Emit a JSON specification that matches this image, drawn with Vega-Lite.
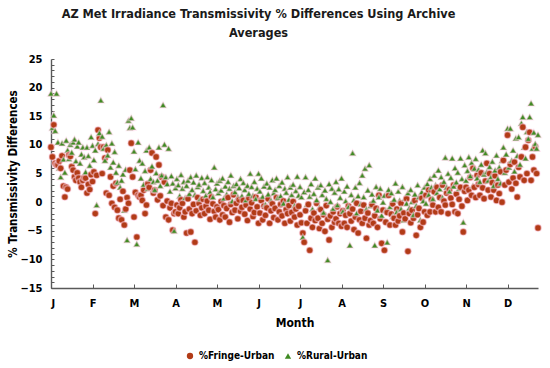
{
"$schema":"https://vega.github.io/schema/vega-lite/v6.json",
"width":487,"height":229,
"autosize":{"type":"none"},
"padding":{"left":51,"top":59,"right":12,"bottom":80},
"background":"white",
"config":{"view":{"stroke":null},"font":"DejaVu Sans Condensed, sans-serif"},
"title":{"text":["AZ Met Irradiance Transmissivity % Differences Using Archive","Averages"],"fontSize":12.6,"fontWeight":"bold","color":"#1a1a1a","anchor":"middle","dx":-36,"offset":13,"lineHeight":19,"font":"DejaVu Sans Condensed, sans-serif"},
"data":{"values":[
{"d":0,"F":9.6,"R":19},{"d":1,"F":7.9,"R":13},{"d":2,"F":13.5,"R":15.2},{"d":3,"F":6.8,"R":12.5},{"d":4,"F":6.5,"R":19},{"d":5,"F":6.5,"R":10.5},{"d":6,"F":7.2,"R":6},{"d":7,"F":5.9,"R":4.4},{"d":8,"F":8.1,"R":10.3},{"d":9,"F":2.8,"R":7.5},{"d":10,"F":0.9,"R":5.2},{"d":11,"F":2.6,"R":10.8},{"d":12,"F":2.3,"R":9.1},{"d":13,"F":8.2,"R":7.6},{"d":14,"F":8,"R":10.1},{"d":15,"F":6.2,"R":8.7},{"d":16,"F":5.6,"R":10.5},{"d":17,"F":4.4,"R":11},{"d":18,"F":3.8,"R":7.2},{"d":19,"F":5.1,"R":9.8},{"d":20,"F":4.2,"R":10.5},{"d":21,"F":3.5,"R":6.8},{"d":22,"F":2.6,"R":8.4},{"d":23,"F":3.8,"R":9.6},{"d":24,"F":4.3,"R":7.9},{"d":25,"F":4.2,"R":5.3},{"d":26,"F":1.6,"R":9.6},{"d":27,"F":3.1,"R":8.1},{"d":28,"F":2.2,"R":6.4},{"d":29,"F":4.8,"R":11.4},{"d":30,"F":3.6,"R":9.9},
{"d":31,"F":5.3,"R":7.4},{"d":32,"F":-2,"R":9.1},{"d":33,"F":4.7,"R":-0.5},{"d":34,"F":12.6,"R":10.2},{"d":35,"F":11.2,"R":12.1},{"d":36,"F":9.6,"R":17.8},{"d":37,"F":5,"R":11.5},{"d":38,"F":9.6,"R":9.4},{"d":39,"F":7.7,"R":7.3},{"d":40,"F":1.6,"R":10},{"d":41,"F":9.1,"R":8.2},{"d":42,"F":1.2,"R":12.3},{"d":43,"F":4.4,"R":6.1},{"d":44,"F":-0.2,"R":10.3},{"d":45,"F":2.8,"R":7},{"d":46,"F":-0.9,"R":8.8},{"d":47,"F":3.3,"R":5.2},{"d":48,"F":-1.4,"R":3.5},{"d":49,"F":-2.8,"R":6.4},{"d":50,"F":0.5,"R":2.6},{"d":51,"F":-3.1,"R":3.8},{"d":52,"F":1.9,"R":4.9},{"d":53,"F":-4,"R":-1.4},{"d":54,"F":-1.2,"R":5.7},{"d":55,"F":0.8,"R":-6.6},{"d":56,"F":-0.2,"R":14.3},{"d":57,"F":5.6,"R":13},{"d":58,"F":10.3,"R":14.7},{"d":59,"F":4.4,"R":13.1},{"d":60,"F":-2.6,"R":8.9},
{"d":61,"F":1.7,"R":5.8},{"d":62,"F":-6.1,"R":-7.3},{"d":63,"F":1.2,"R":10.5},{"d":64,"F":0.9,"R":7.3},{"d":65,"F":1.2,"R":4.2},{"d":66,"F":0.3,"R":6.8},{"d":67,"F":2.1,"R":3.1},{"d":68,"F":-2,"R":5.5},{"d":69,"F":-0.5,"R":9.1},{"d":70,"F":3.2,"R":2.4},{"d":71,"F":2.6,"R":9.6},{"d":72,"F":5.6,"R":4.1},{"d":73,"F":8.6,"R":6.3},{"d":74,"F":1.6,"R":3.6},{"d":75,"F":2.1,"R":2.2},{"d":76,"F":7.9,"R":5.1},{"d":77,"F":0.4,"R":3.8},{"d":78,"F":6.5,"R":9.6},{"d":79,"F":1.1,"R":2.9},{"d":80,"F":4.4,"R":4.7},{"d":81,"F":-0.6,"R":17},{"d":82,"F":3.5,"R":10.1},{"d":83,"F":-2.6,"R":4.4},{"d":84,"F":0.2,"R":3.2},{"d":85,"F":-3.1,"R":9.4},{"d":86,"F":-1,"R":1.9},{"d":87,"F":-0.2,"R":4.6},{"d":88,"F":-4.9,"R":3.3},{"d":89,"F":-2,"R":-5},{"d":90,"F":-1.7,"R":2.5},
{"d":91,"F":-0.5,"R":4.1},{"d":92,"F":-2,"R":3},{"d":93,"F":-1,"R":1.1},{"d":94,"F":0.4,"R":4.8},{"d":95,"F":-0.2,"R":2.4},{"d":96,"F":-2.6,"R":3.6},{"d":97,"F":-1.7,"R":0.8},{"d":98,"F":-5.4,"R":2.9},{"d":99,"F":0.6,"R":3.8},{"d":100,"F":-1.2,"R":1.5},{"d":101,"F":-5.2,"R":4.4},{"d":102,"F":-2,"R":2.2},{"d":103,"F":-0.4,"R":3.5},{"d":104,"F":-7,"R":1.3},{"d":105,"F":-1.5,"R":4.7},{"d":106,"F":0.8,"R":2.7},{"d":107,"F":-0.2,"R":3.1},{"d":108,"F":-2.3,"R":0.6},{"d":109,"F":-1,"R":4.3},{"d":110,"F":0.5,"R":2},{"d":111,"F":-2,"R":3.4},{"d":112,"F":-0.7,"R":1.2},{"d":113,"F":0.2,"R":4.4},{"d":114,"F":-1.4,"R":2.6},{"d":115,"F":-3,"R":1.8},{"d":116,"F":0.9,"R":3.9},{"d":117,"F":-0.3,"R":0.9},{"d":118,"F":-1.6,"R":6.1},{"d":119,"F":-2.6,"R":2.3},{"d":120,"F":-0.8,"R":3.3},
{"d":121,"F":-1.3,"R":1.6},{"d":122,"F":-3.1,"R":3.8},{"d":123,"F":0.1,"R":2.1},{"d":124,"F":-2.2,"R":4.2},{"d":125,"F":-0.6,"R":0.7},{"d":126,"F":-2.6,"R":2.8},{"d":127,"F":-1.1,"R":1.4},{"d":128,"F":0.8,"R":3.6},{"d":129,"F":-3.5,"R":2.4},{"d":130,"F":-0.4,"R":4.7},{"d":131,"F":-1.8,"R":0.2},{"d":132,"F":1.3,"R":2.9},{"d":133,"F":-1.4,"R":1.8},{"d":134,"F":-0.2,"R":3.2},{"d":135,"F":-2.9,"R":0.9},{"d":136,"F":0.4,"R":2.5},{"d":137,"F":-1.6,"R":4.1},{"d":138,"F":-0.9,"R":1.1},{"d":139,"F":0.3,"R":3.4},{"d":140,"F":-2.1,"R":2.2},{"d":141,"F":-0.5,"R":0.4},{"d":142,"F":-3.2,"R":2.9},{"d":143,"F":0.7,"R":1.5},{"d":144,"F":-1.2,"R":5},{"d":145,"F":-0.1,"R":2.7},{"d":146,"F":-2.5,"R":1.2},{"d":147,"F":-1.8,"R":3.6},{"d":148,"F":0.9,"R":0.6},{"d":149,"F":-0.8,"R":2.4},{"d":150,"F":-3.7,"R":5},
{"d":151,"F":-1.9,"R":1.9},{"d":152,"F":0.3,"R":4.2},{"d":153,"F":-3.1,"R":1},{"d":154,"F":-0.7,"R":2.8},{"d":155,"F":-2.3,"R":-0.4},{"d":156,"F":-1,"R":3.3},{"d":157,"F":0.6,"R":1.4},{"d":158,"F":-3.7,"R":2.6},{"d":159,"F":-1.5,"R":0.3},{"d":160,"F":-0.3,"R":3.9},{"d":161,"F":-2.7,"R":1.6},{"d":162,"F":-1.1,"R":2.2},{"d":163,"F":0.8,"R":4.2},{"d":164,"F":-3.1,"R":0.8},{"d":165,"F":-1.7,"R":2.9},{"d":166,"F":-0.4,"R":1.1},{"d":167,"F":-2.4,"R":3.5},{"d":168,"F":0.2,"R":-0.2},{"d":169,"F":-3.7,"R":2.4},{"d":170,"F":-1.3,"R":1.7},{"d":171,"F":-2,"R":4.4},{"d":172,"F":-0.6,"R":0.5},{"d":173,"F":-3.3,"R":2.6},{"d":174,"F":-1.8,"R":1.3},{"d":175,"F":0.1,"R":3.1},{"d":176,"F":-2.6,"R":-0.6},{"d":177,"F":-1.2,"R":2},{"d":178,"F":-4,"R":4.5},{"d":179,"F":-0.7,"R":1.2},{"d":180,"F":-2.2,"R":2.7},
{"d":181,"F":-3.6,"R":0.9},{"d":182,"F":-5.4,"R":-6.1},{"d":183,"F":-7,"R":1.8},{"d":184,"F":-1.5,"R":4.4},{"d":185,"F":-3.7,"R":-0.4},{"d":186,"F":-0.4,"R":2.2},{"d":187,"F":-8.4,"R":1},{"d":188,"F":-2.8,"R":3.2},{"d":189,"F":-4.4,"R":-1.2},{"d":190,"F":-1.9,"R":1.5},{"d":191,"F":-3.2,"R":4.2},{"d":192,"F":-0.2,"R":0.4},{"d":193,"F":-2.8,"R":2.6},{"d":194,"F":-4.6,"R":-0.9},{"d":195,"F":-1.3,"R":3},{"d":196,"F":-3.7,"R":1.3},{"d":197,"F":-2.2,"R":-1.8},{"d":198,"F":-5.1,"R":2.1},{"d":199,"F":-0.6,"R":0.6},{"d":200,"F":-3,"R":-10.1},{"d":201,"F":-6.6,"R":3.2},{"d":202,"F":-2.4,"R":0.1},{"d":203,"F":-4.4,"R":2.4},{"d":204,"F":-1.7,"R":-1.1},{"d":205,"F":-3.5,"R":1.7},{"d":206,"F":-2.9,"R":3.6},{"d":207,"F":-0.8,"R":-0.5},{"d":208,"F":-3.7,"R":2.3},{"d":209,"F":-2,"R":0.8},{"d":210,"F":-4.2,"R":4.2},
{"d":211,"F":-1.5,"R":-1.6},{"d":212,"F":-3.7,"R":1.9},{"d":213,"F":-2.3,"R":0.2},{"d":214,"F":-4.4,"R":2.8},{"d":215,"F":-0.7,"R":-0.8},{"d":216,"F":-2,"R":-7.5},{"d":217,"F":-3.3,"R":1.3},{"d":218,"F":-1.2,"R":8.6},{"d":219,"F":-4.8,"R":0.4},{"d":220,"F":-2.6,"R":2.6},{"d":221,"F":-0.2,"R":-1.9},{"d":222,"F":-5.4,"R":1.1},{"d":223,"F":-3.1,"R":3.4},{"d":224,"F":-1.6,"R":-0.3},{"d":225,"F":-3.7,"R":4.7},{"d":226,"F":-0.5,"R":0.9},{"d":227,"F":-2.8,"R":5.9},{"d":228,"F":-6.3,"R":-1.2},{"d":229,"F":-1.9,"R":2.1},{"d":230,"F":-4,"R":6.5},{"d":231,"F":-3.2,"R":-0.6},{"d":232,"F":-0.4,"R":1.4},{"d":233,"F":-3.7,"R":0.3},{"d":234,"F":-2.4,"R":-7.5},{"d":235,"F":-1.1,"R":2.7},{"d":236,"F":-4.4,"R":-1.4},{"d":237,"F":1.2,"R":0.9},{"d":238,"F":-2.9,"R":2.4},{"d":239,"F":-7.2,"R":-2.3},{"d":240,"F":-1.4,"R":0},
{"d":241,"F":-8.4,"R":1.2},{"d":242,"F":-3.5,"R":-1.4},{"d":243,"F":-1.8,"R":-7},{"d":244,"F":1.2,"R":2.2},{"d":245,"F":-4,"R":-0.8},{"d":246,"F":-2.1,"R":1.6},{"d":247,"F":-0.3,"R":-2.5},{"d":248,"F":-2.8,"R":0.5},{"d":249,"F":-4,"R":3.3},{"d":250,"F":-1.2,"R":-1.7},{"d":251,"F":-3.3,"R":1.9},{"d":252,"F":-2.4,"R":0.3},{"d":253,"F":-0.2,"R":-1.2},{"d":254,"F":-5.2,"R":2.7},{"d":255,"F":-1.9,"R":-3.1},{"d":256,"F":-2.9,"R":0.7},{"d":257,"F":0.6,"R":-0.2},{"d":258,"F":-8.6,"R":1.6},{"d":259,"F":-2,"R":-1},{"d":260,"F":-3.6,"R":2.2},{"d":261,"F":-1.4,"R":0.1},{"d":262,"F":-2.8,"R":-2.2},{"d":263,"F":0.3,"R":1.4},{"d":264,"F":-5.8,"R":-0.6},{"d":265,"F":-2.2,"R":3},{"d":266,"F":-1.1,"R":0.9},{"d":267,"F":-4.4,"R":-3.1},{"d":268,"F":0.7,"R":1.8},{"d":269,"F":-3.5,"R":0.2},{"d":270,"F":-1.7,"R":2.6},
{"d":271,"F":1.2,"R":-0.2},{"d":272,"F":-2.3,"R":3.2},{"d":273,"F":2.1,"R":1.3},{"d":274,"F":-1.7,"R":4.1},{"d":275,"F":0.4,"R":2.6},{"d":276,"F":-0.5,"R":0.6},{"d":277,"F":1.8,"R":4.7},{"d":278,"F":-1.7,"R":3},{"d":279,"F":2.6,"R":1.6},{"d":280,"F":-0.9,"R":5.6},{"d":281,"F":0.8,"R":2.3},{"d":282,"F":-1.7,"R":4.4},{"d":283,"F":3,"R":0.8},{"d":284,"F":0.2,"R":3.6},{"d":285,"F":-0.5,"R":7.8},{"d":286,"F":1.6,"R":2.6},{"d":287,"F":-2,"R":5},{"d":288,"F":2.2,"R":1.9},{"d":289,"F":0.7,"R":4.3},{"d":290,"F":-0.4,"R":7.7},{"d":291,"F":3,"R":2.8},{"d":292,"F":-1.7,"R":6},{"d":293,"F":1.4,"R":3.5},{"d":294,"F":-2,"R":5.2},{"d":295,"F":0.5,"R":2.4},{"d":296,"F":2.6,"R":7.7},{"d":297,"F":-0.7,"R":4.1},{"d":298,"F":-5.2,"R":-3.5},{"d":299,"F":1.9,"R":6.5},{"d":300,"F":2.6,"R":3.8},
{"d":301,"F":0.3,"R":5.5},{"d":302,"F":2.1,"R":7.9},{"d":303,"F":4.3,"R":4.6},{"d":304,"F":1.2,"R":6.9},{"d":305,"F":5.9,"R":2.9},{"d":306,"F":2.6,"R":5.9},{"d":307,"F":0.8,"R":7.6},{"d":308,"F":4.7,"R":4.2},{"d":309,"F":3.1,"R":5.7},{"d":310,"F":1.2,"R":3.6},{"d":311,"F":5.1,"R":6.6},{"d":312,"F":2.5,"R":9.1},{"d":313,"F":0.6,"R":4.9},{"d":314,"F":3.7,"R":8.6},{"d":315,"F":6.8,"R":5.3},{"d":316,"F":2.1,"R":3.8},{"d":317,"F":5,"R":6.2},{"d":318,"F":0.9,"R":4.4},{"d":319,"F":3.4,"R":7.1},{"d":320,"F":2.1,"R":2.9},{"d":321,"F":4.6,"R":5.6},{"d":322,"F":0.3,"R":8.2},{"d":323,"F":3,"R":4.1},{"d":324,"F":1.5,"R":6.1},{"d":325,"F":5.3,"R":3.3},{"d":326,"F":0,"R":7.3},{"d":327,"F":7.3,"R":9.6},{"d":328,"F":3,"R":5.2},{"d":329,"F":5.6,"R":8.4},{"d":330,"F":11.7,"R":12.9},
{"d":331,"F":3.5,"R":6.1},{"d":332,"F":6.6,"R":12.9},{"d":333,"F":2.3,"R":7.3},{"d":334,"F":4.2,"R":9.1},{"d":335,"F":7,"R":5.4},{"d":336,"F":3.3,"R":11.2},{"d":337,"F":0.9,"R":8.1},{"d":338,"F":6.1,"R":11.4},{"d":339,"F":4.4,"R":6.6},{"d":340,"F":7.9,"R":13.8},{"d":341,"F":13.1,"R":14.9},{"d":342,"F":3.8,"R":9.6},{"d":343,"F":9.6,"R":7.7},{"d":344,"F":5,"R":12.3},{"d":345,"F":10.8,"R":11.1},{"d":346,"F":12.2,"R":14.9},{"d":347,"F":3.8,"R":17.3},{"d":348,"F":7.9,"R":9.4},{"d":349,"F":5.6,"R":12.2},{"d":350,"F":9.7,"R":10.2},{"d":351,"F":5,"R":9.4},{"d":352,"F":-4.5,"R":11.8}
]},
"transform":[{"fold":["F","R"],"as":["series","value"]}],
"mark":{"type":"point","filled":true,"size":44,"opacity":1,"stroke":"#FFD3EA","strokeWidth":1.5,"strokeOpacity":0.5},
"encoding":{
"x":{"field":"d","type":"quantitative","scale":{"domain":[0,352],"nice":false,"zero":false},
"axis":{"values":[0,30,60,90,120,150,180,210,240,270,300,330],"labelExpr":"substring('JFMAMJJASOND', datum.value/30, datum.value/30+1)","title":"Month","grid":false,"tickSize":-4,"tickColor":"#595959","domainColor":"#595959","domainWidth":1.4,"labelFontSize":11,"labelFontWeight":"bold","labelColor":"#000","labelPadding":13,"titleFontSize":12,"titleFontWeight":"bold","titleColor":"#000","titlePadding":9}},
"y":{"field":"value","type":"quantitative","scale":{"domain":[-15,25],"nice":false},
"axis":{"values":[-15,-14,-13,-12,-11,-10,-9,-8,-7,-6,-5,-4,-3,-2,-1,0,1,2,3,4,5,6,7,8,9,10,11,12,13,14,15,16,17,18,19,20,21,22,23,24,25],"labelExpr":"datum.value % 5 === 0 ? datum.label : ''","title":"% Transmissivity Differences","grid":false,"tickSize":-3,"tickColor":"#595959","domainColor":"#595959","domainWidth":1.4,"labelFontSize":11,"labelFontWeight":"bold","labelColor":"#000","labelPadding":12,"titleFontSize":11.5,"titleFontWeight":"bold","titleColor":"#000","titlePadding":1}},
"color":{"field":"series","type":"nominal","scale":{"domain":["F","R"],"range":["#B23B17","#3F8A22"]},
"legend":{"orient":"none","legendX":134,"legendY":292,"direction":"horizontal","title":null,"padding":0,"symbolSize":40,"labelFontSize":10,"labelFontWeight":"bold","labelColor":"#000","columnPadding":8,"symbolStrokeWidth":0,"labelExpr":"datum.value == 'F' ? '%Fringe-Urban' : '%Rural-Urban'"}},
"shape":{"field":"series","type":"nominal","scale":{"domain":["F","R"],"range":["circle","triangle-up"]},"legend":null}
}
}
